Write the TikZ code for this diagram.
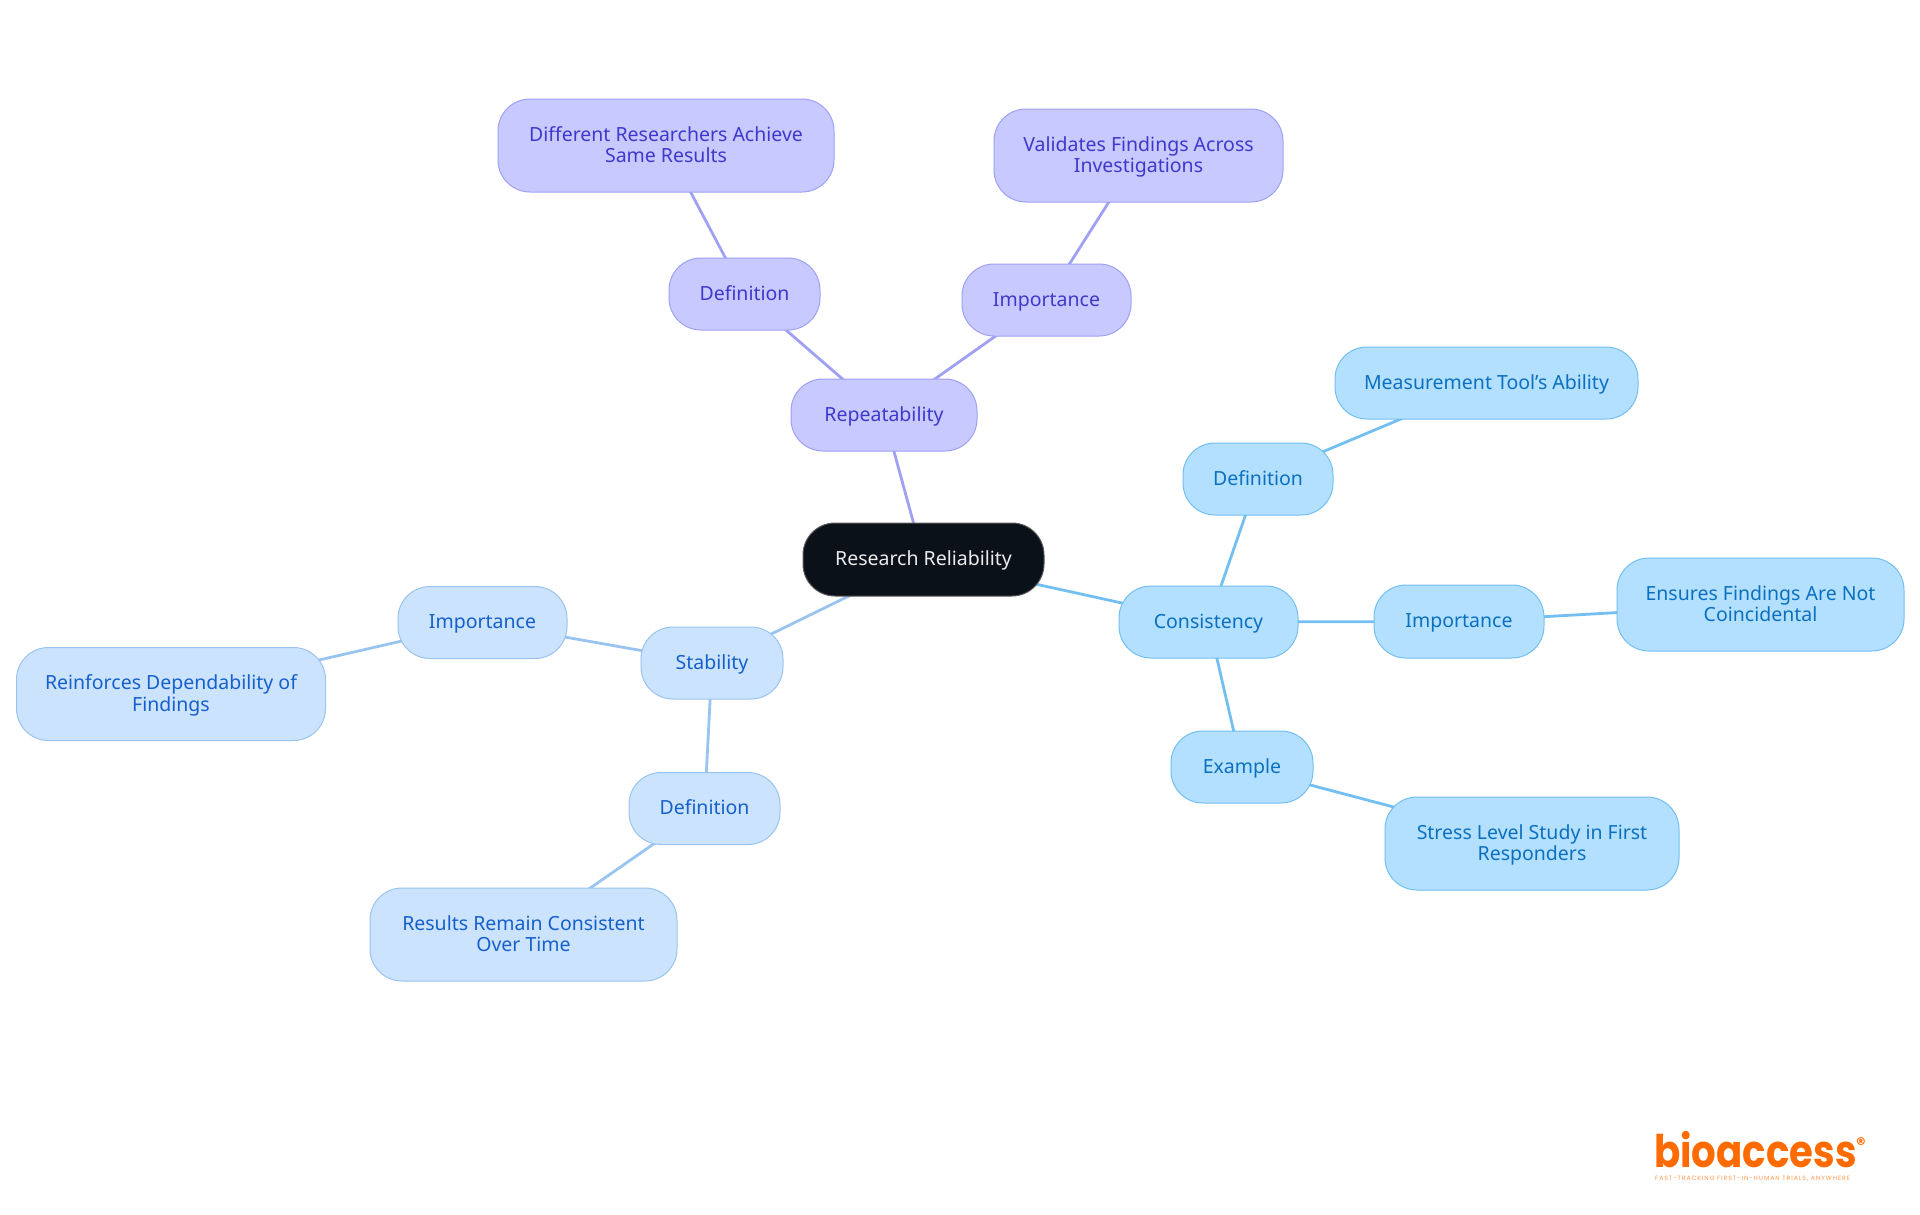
\documentclass[tikz,border=0pt]{standalone}
\usepackage{fontspec}
\setmainfont{Noto Sans}
\newfontfamily\logofont[FakeStretch=0.86]{Poppins}
\newfontfamily\tagfont[LetterSpace=15]{Poppins}
\usetikzlibrary{backgrounds}

\definecolor{rootfill}{HTML}{0B1119}
\definecolor{purplefill}{HTML}{C8CAFF}
\definecolor{purpleline}{HTML}{A0A0F5}
\definecolor{purpletext}{HTML}{3E38CC}
\definecolor{skyfill}{HTML}{B3E0FF}
\definecolor{skyline}{HTML}{73BFF2}
\definecolor{skytext}{HTML}{0B70C0}
\definecolor{bluefill}{HTML}{CCE3FD}
\definecolor{blueline}{HTML}{9AC4F0}
\definecolor{bluetext}{HTML}{1560CC}
\definecolor{logoorange}{HTML}{FF6B00}

\tikzset{
  mapnode/.style={draw,rounded corners=32pt,line width=1pt,align=center,inner sep=0pt,
    text height=15.2pt,text depth=2.8pt,font=\fontsize{19.5}{21.6}\selectfont},
  twolines/.style={text height=37.2pt},
  wh/.style 2 args={minimum width=#1pt,minimum height=#2pt},
  rootnode/.style={mapnode,fill=rootfill,draw=gray!70!black,text=white!92!black},
  purplenode/.style={mapnode,fill=purplefill,draw=purpleline,text=purpletext},
  skynode/.style={mapnode,fill=skyfill,draw=skyline,text=skytext},
  bluenode/.style={mapnode,fill=bluefill,draw=blueline,text=bluetext},
  link/.style={line width=2.8pt}
}

\begin{document}
\begin{tikzpicture}[x=1pt,y=-1pt]
\useasboundingbox (0,0) rectangle (1920,1215);

% Centre
\node[rootnode,wh={241}{73}] (root) at (923.5,559.5) {Research Reliability};

% Repeatability branch
\node[purplenode,wh={186}{72}] (rep) at (884,415) {Repeatability};
\node[purplenode,wh={151}{72}] (repdef) at (744.5,294) {Definition};
\node[purplenode,wh={169}{72}] (repimp) at (1046.5,300) {Importance};
\node[purplenode,twolines,wh={336}{93}] (repdiff) at (666,145.5) {Different Researchers Achieve\\Same Results};
\node[purplenode,twolines,wh={289}{93}] (repval) at (1138.5,155.5) {Validates Findings Across\\Investigations};

% Consistency branch
\node[skynode,wh={179}{72}] (con) at (1208.5,622) {Consistency};
\node[skynode,wh={150}{72}] (condef) at (1258,479) {Definition};
\node[skynode,wh={303}{72}] (conmeas) at (1486.5,383) {Measurement Tool's Ability};
\node[skynode,wh={170}{73}] (conimp) at (1459,621.5) {Importance};
\node[skynode,twolines,wh={287}{93}] (conens) at (1760.5,604.5) {Ensures Findings Are Not\\Coincidental};
\node[skynode,wh={142}{72}] (conex) at (1242,767) {Example};
\node[skynode,twolines,wh={294}{93}] (constress) at (1532,843.5) {Stress Level Study in First\\Responders};

% Stability branch
\node[bluenode,wh={142}{72}] (sta) at (712,663) {Stability};
\node[bluenode,wh={169}{72}] (staimp) at (482.5,622.5) {Importance};
\node[bluenode,twolines,wh={309}{93}] (stare) at (171,694) {Reinforces Dependability of\\Findings};
\node[bluenode,wh={151}{72}] (stadef) at (704.5,808.5) {Definition};
\node[bluenode,twolines,wh={307}{93}] (stares) at (523.5,934.5) {Results Remain Consistent\\Over Time};

% Links run behind the nodes
\begin{scope}[on background layer]
\foreach \a/\b in {root/rep,rep/repdef,rep/repimp,repdef/repdiff,repimp/repval} {
    \draw[link,purpleline] (\a.center) -- (\b.center);
}
\foreach \a/\b in {root/con,con/condef,con/conimp,con/conex,condef/conmeas,conimp/conens,conex/constress} {
    \draw[link,skyline] (\a.center) -- (\b.center);
}
\foreach \a/\b in {root/sta,sta/staimp,sta/stadef,staimp/stare,stadef/stares} {
    \draw[link,blueline] (\a.center) -- (\b.center);
}
\end{scope}

% Logo
\node[text=logoorange,inner sep=0pt,anchor=base west,text depth=0pt,font=\logofont\bfseries\fontsize{45}{45}\selectfont] (logoname) at (1654,1167) {bioaccess};
\node[text=logoorange,inner sep=0pt,font=\tagfont\bfseries\fontsize{18}{18}\selectfont] (logomark) at (1861,1144) {®};
\node[text=logoorange!70,inner sep=0pt,anchor=base west,font=\tagfont\fontsize{6.2}{6.2}\selectfont] (logotag) at (1655,1180) {FAST-TRACKING FIRST-IN-HUMAN TRIALS, ANYWHERE};
\end{tikzpicture}
\end{document}
